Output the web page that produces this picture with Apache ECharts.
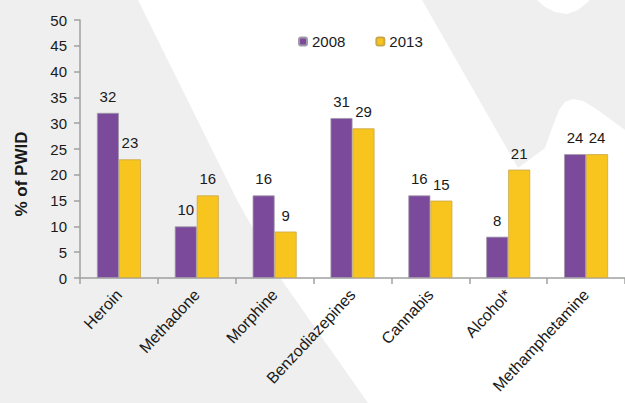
<!DOCTYPE html>
<html>
<head>
<meta charset="utf-8">
<script src="https://cdn.jsdelivr.net/npm/echarts@6/dist/echarts.min.js"></script>
<style>html,body{margin:0;padding:0;background:#fff;}#c{width:625px;height:403px;}</style>
</head>
<body>
<div id="c"></div>
<script>
var categories = ['Heroin','Methadone','Morphine','Benzodiazepines','Cannabis','Alcohol*','Methamphetamine'];
var values2008 = [32,10,16,31,16,8,24];
var values2013 = [23,16,9,29,15,21,24];
var yTicks = {min:0, max:50, interval:5};
var yName = '% of PWID';

var chart = echarts.init(document.getElementById('c'), null, {renderer:'svg'});
var font = '"Liberation Sans", Arial, sans-serif';
chart.setOption({
  animation:false,
  backgroundColor:'#ffffff',
  graphic:[
    {type:'polygon', z:-10, silent:true,
     shape:{points:[[0,0],[138,0],[237,200],[283,282],[368,403],[0,403]]},
     style:{fill:'#efefef'}},
    {type:'polygon', z:-10, silent:true,
     shape:{points:[[422,0],[537,0],[545,7],[555,12],[567,14],[578,10],[590,0],[625,0],[625,130],[610,119],[595,108],[583,101],[573,99],[565,102],[559,110],[552,128],[545,148],[518,168]]},
     style:{fill:'#efefef'}}
  ],
  legend:{
    left:293, top:29, itemWidth:8, itemHeight:8, itemGap:30,
    textStyle:{fontFamily:font, fontSize:15, color:'#1a1a1a'},
    data:['2008','2013']
  },
  grid:{left:80, top:20, right:-4, bottom:125},
  xAxis:{
    type:'category', data:categories,
    axisLine:{lineStyle:{color:'#a0a0a0', width:1.5}},
    axisTick:{show:true, length:6, alignWithLabel:false, lineStyle:{color:'#a0a0a0', width:1.5}},
    axisLabel:{rotate:47, margin:14, fontFamily:font, fontSize:16, color:'#1a1a1a', interval:0}
  },
  yAxis:{
    type:'value', min:yTicks.min, max:yTicks.max, interval:yTicks.interval,
    name:yName, nameLocation:'middle', nameRotate:90, nameGap:50,
    nameTextStyle:{fontFamily:font, fontSize:17, fontWeight:'bold', color:'#1a1a1a', padding:[0,50,0,0]},
    axisLine:{show:true, lineStyle:{color:'#a0a0a0', width:1.5}},
    axisTick:{show:true, length:6, lineStyle:{color:'#a0a0a0', width:1.5}},
    splitLine:{show:false},
    axisLabel:{margin:13, fontFamily:font, fontSize:15, color:'#1a1a1a'}
  },
  series:[
    {name:'2008', type:'bar', data:values2008, barWidth:22, barGap:'0%',
     itemStyle:{color:'#7b4a9b', borderColor:'#a09aa8', borderWidth:0.8},
     label:{show:true, position:'top', distance:9, fontFamily:font, fontSize:15, color:'#1a1a1a'}},
    {name:'2013', type:'bar', data:values2013, barWidth:22, barGap:'0%',
     itemStyle:{color:'#f7c51e', borderColor:'#c9a84a', borderWidth:0.8},
     label:{show:true, position:'top', distance:9, fontFamily:font, fontSize:15, color:'#1a1a1a'}}
  ]
});
</script>
</body>
</html>
